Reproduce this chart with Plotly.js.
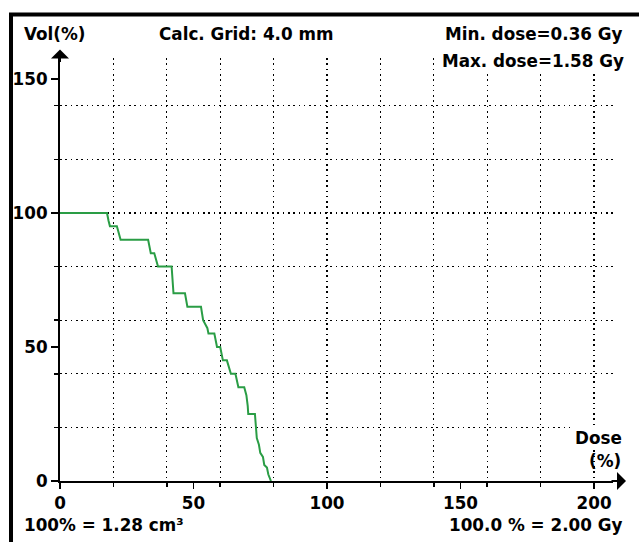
<!DOCTYPE html>
<html>
<head>
<meta charset="utf-8">
<script src="https://cdn.plot.ly/plotly-3.0.1.min.js"></script>
<style>html,body{margin:0;padding:0;background:#fff;}#chart{width:639px;height:542px;}</style>
</head>
<body>
<div id="chart"></div>
<script>
// DVH curve: dose (% of 2.00 Gy) and volume (% of 1.28 cm³)
const doseValues = [0, 17.6, 18.2, 18.7, 21.3, 22, 22.7, 33, 33.5, 34, 35.3, 36, 36.7, 41.8, 42.2, 42.5, 46.8, 47.3, 47.7, 52.8, 53.3, 53.6, 55.2, 55.6, 57.8, 58.5, 58.8, 60, 60.5, 61, 62.5, 63.5, 64, 65.7, 66.3, 66.8, 69, 69.8, 70.3, 70.5, 73, 73.3, 73.7, 74.5, 75, 76, 76.5, 77.5, 78, 79];
const volumeValues = [100, 100, 97, 95, 95, 92, 90, 90, 87.5, 85, 85, 82.5, 80, 80, 75, 70, 70, 67.5, 65, 65, 62.5, 60, 57, 55, 55, 51, 50, 50, 47.5, 45, 45, 41, 40, 40, 37, 35, 35, 32, 28, 25, 25, 20, 16, 13.5, 10.5, 9, 6, 5, 2.5, 0];

const xLabelTicks = [0, 50, 100, 150, 200];
const yLabelTicks = [0, 50, 100, 150];
const gridStep = 20;

const topLeftTitle = 'Vol(%)';
const centerTitle = 'Calc. Grid: 4.0 mm';
const minDoseText = 'Min. dose=0.36 Gy';
const maxDoseText = 'Max. dose=1.58 Gy';
const xAxisName1 = 'Dose';
const xAxisName2 = '(%)';
const volumeNote = '100% = 1.28 cm³';
const doseNote = '100.0 % = 2.00 Gy';

const FONT = {family: 'DejaVu Sans', size: 16.8, weight: 'bold', color: '#000'};
const xRange = [0, 207.1];
const yRange = [0, 157.8];

const traces = [
  {
    x: doseValues, y: volumeValues, type: 'scatter', mode: 'lines',
    line: {color: '#2a9d45', width: 2}, hoverinfo: 'skip', showlegend: false,
    xaxis: 'x', yaxis: 'y'
  },
  {
    x: [xRange[0]], y: [yRange[0]], type: 'scatter', mode: 'markers',
    marker: {opacity: 0, size: 1}, hoverinfo: 'skip', showlegend: false,
    xaxis: 'x2', yaxis: 'y2'
  }
];

const gridAxis = {
  showgrid: true, gridcolor: '#000', gridwidth: 1.3, griddash: '1.6px,3.7px',
  zeroline: false, showline: true, linecolor: '#000', linewidth: 2,
  ticks: 'outside', ticklen: 4, tickwidth: 1.5, tickcolor: '#000',
  dtick: gridStep, tick0: 0, showticklabels: false, fixedrange: true
};

const layout = {
  width: 639, height: 542,
  margin: {l: 60, r: 26, t: 58, b: 61, pad: 0},
  paper_bgcolor: '#fff', plot_bgcolor: '#fff',
  font: FONT,
  showlegend: false,
  xaxis: Object.assign({}, gridAxis, {range: xRange}),
  yaxis: Object.assign({}, gridAxis, {range: yRange}),
  xaxis2: {
    overlaying: 'x', side: 'bottom', anchor: 'y2', range: xRange,
    tickvals: xLabelTicks, ticktext: xLabelTicks.map(String),
    ticks: 'outside', ticklen: 7, tickwidth: 1.5, tickcolor: '#000',
    showgrid: false, zeroline: false, showline: false, tickfont: FONT, fixedrange: true
  },
  yaxis2: {
    overlaying: 'y', side: 'left', anchor: 'x2', range: yRange,
    tickvals: yLabelTicks, ticktext: yLabelTicks.map(String),
    ticks: 'outside', ticklen: 8, tickwidth: 1.5, tickcolor: '#000',
    showgrid: false, zeroline: false, showline: false, tickfont: FONT, fixedrange: true
  },
  shapes: [
    {type: 'rect', xref: 'paper', yref: 'paper', x0: -0.0886, x1: 1.3, y0: -0.5, y1: 1.1030,
     line: {color: '#000', width: 4}, fillcolor: 'rgba(0,0,0,0)', layer: 'above'}
  ],
  annotations: [
    {xref: 'paper', yref: 'paper', x: 0, y: 1.0203, ax: 0, ay: 14, axref: 'pixel', ayref: 'pixel',
     showarrow: true, arrowhead: 1, arrowsize: 1.5, arrowwidth: 2, arrowcolor: '#000', text: ''},
    {xref: 'paper', yref: 'paper', x: 1.0235, y: 0, ax: -16, ay: 0, axref: 'pixel', ayref: 'pixel',
     showarrow: true, arrowhead: 1, arrowsize: 1.5, arrowwidth: 2, arrowcolor: '#000', text: ''},
    {xref: 'paper', yref: 'paper', x: -0.0687, y: 1.0557, xanchor: 'left', yanchor: 'middle', text: topLeftTitle, showarrow: false, font: FONT},
    {xref: 'paper', yref: 'paper', x: 0.3363, y: 1.0557, xanchor: 'center', yanchor: 'middle', text: centerTitle, showarrow: false, font: FONT},
    {xref: 'paper', yref: 'paper', x: 1.0217, y: 1.0557, xanchor: 'right', yanchor: 'middle', text: minDoseText, showarrow: false, font: FONT},
    {xref: 'paper', yref: 'paper', x: 1.0217, y: 0.9920, xanchor: 'right', yanchor: 'middle', text: maxDoseText, showarrow: false, font: FONT, bgcolor: '#fff', borderpad: 0},
    {xref: 'paper', yref: 'paper', x: 1.0199, y: 0.1016, xanchor: 'right', yanchor: 'middle', text: xAxisName1, showarrow: false, font: FONT, bgcolor: '#fff', borderpad: 1},
    {xref: 'paper', yref: 'paper', x: 1.0181, y: 0.0472, xanchor: 'right', yanchor: 'middle', text: xAxisName2, showarrow: false, font: FONT},
    {xref: 'paper', yref: 'paper', x: -0.0687, y: -0.1039, xanchor: 'left', yanchor: 'middle', text: volumeNote, showarrow: false, font: FONT},
    {xref: 'paper', yref: 'paper', x: 1.0217, y: -0.1039, xanchor: 'right', yanchor: 'middle', text: doseNote, showarrow: false, font: FONT}
  ]
};

Plotly.newPlot('chart', traces, layout, {staticPlot: true, displayModeBar: false});
</script>
</body>
</html>
